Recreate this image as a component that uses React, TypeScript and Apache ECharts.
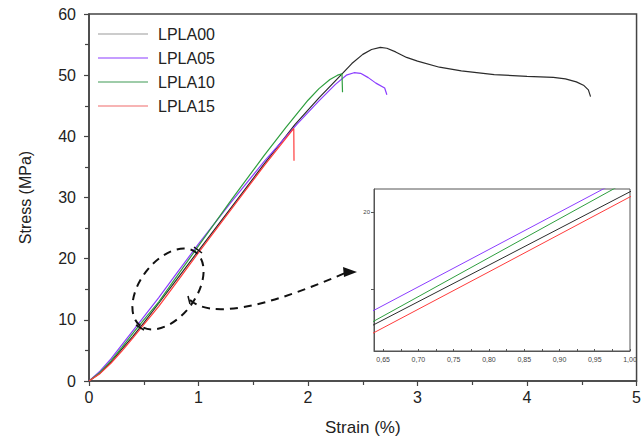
import React, { useEffect, useRef } from "react";
import * as echarts from "echarts";

// ---- data ----
const seriesNames = ["LPLA00", "LPLA05", "LPLA10", "LPLA15"];

const strain00 = [0, 0.1, 0.2, 0.3, 0.4, 0.5, 0.637, 0.8, 1.0, 1.3, 1.6, 1.88, 2.1, 2.3, 2.4, 2.5, 2.58, 2.66, 2.72, 2.8, 2.9, 3.0, 3.2, 3.4, 3.7, 4.0, 4.24, 4.35, 4.45, 4.52, 4.56, 4.58];
const stress00 = [0, 1.3, 3.1, 5.2, 7.3, 9.5, 12.71, 16.57, 21.32, 28.4, 35.5, 41.9, 46.3, 50.0, 51.9, 53.4, 54.2, 54.55, 54.4, 53.8, 52.9, 52.3, 51.3, 50.7, 50.1, 49.8, 49.65, 49.4, 48.9, 48.3, 47.6, 46.5];

const strain05 = [0, 0.1, 0.2, 0.3, 0.4, 0.5, 0.637, 0.8, 1.0, 1.3, 1.6, 1.9, 2.1, 2.25, 2.35, 2.42, 2.48, 2.55, 2.62, 2.7, 2.72];
const stress05 = [0, 1.6, 3.6, 5.9, 8.2, 10.5, 13.64, 17.58, 22.42, 29.3, 35.9, 42.0, 45.8, 48.5, 50.0, 50.4, 50.3, 49.6, 48.7, 47.9, 46.8];

const strain10 = [0, 0.1, 0.2, 0.3, 0.4, 0.5, 0.637, 0.8, 1.0, 1.3, 1.6, 1.8, 2.0, 2.1, 2.2, 2.27, 2.31, 2.315];
const stress10 = [0, 1.4, 3.3, 5.5, 7.8, 10.0, 12.94, 17.05, 22.09, 29.6, 36.9, 41.5, 45.9, 47.8, 49.3, 50.0, 50.2, 47.2];

const strain15 = [0, 0.1, 0.2, 0.3, 0.4, 0.5, 0.637, 0.8, 1.0, 1.3, 1.6, 1.87, 1.872];
const stress15 = [0, 1.2, 2.9, 4.9, 7.0, 9.2, 12.19, 16.13, 20.99, 28.1, 35.2, 41.3, 36.0];

const colors = ["#2b2b2b", "#8b3dff", "#2e9e3e", "#ff3b3b"];
const legendColors = ["#9a9a9a", "#8b3dff", "#3f9a55", "#f06a6a"];

const mainXTicks = [0, 1, 2, 3, 4, 5];
const mainYTicks = [0, 10, 20, 30, 40, 50, 60];
const insetXTicks = [0.65, 0.675, 0.7, 0.725, 0.75, 0.775, 0.8, 0.825, 0.85, 0.875, 0.9, 0.925, 0.95, 0.975, 1.0];
const insetXLabels = [0.65, 0.7, 0.75, 0.8, 0.85, 0.9, 0.95, 1.0];
const insetYTicks = [15, 20];
const insetYLabels = [20];

const allStrain = [strain00, strain05, strain10, strain15];
const allStress = [stress00, stress05, stress10, stress15];

const FONT = "'Liberation Sans', Arial, sans-serif";

export default function App() {
  const ref = useRef<HTMLDivElement>(null);

  useEffect(() => {
    if (!ref.current) return;
    const chart = echarts.init(ref.current, null, { renderer: "svg" });

    const pairs = allStrain.map((xs, i) => xs.map((x, j) => [x, allStress[i][j]]));

    const mainSeries = seriesNames.map((name, i) => ({
      name,
      type: "line",
      xAxisIndex: 0,
      yAxisIndex: 0,
      data: pairs[i],
      symbol: "none",
      smooth: false,
      lineStyle: { color: colors[i], width: 1.2 },
      itemStyle: { color: colors[i] },
      z: 3,
    }));

    const insetSeries = seriesNames.map((name, i) => ({
      name,
      type: "line",
      xAxisIndex: 1,
      yAxisIndex: 1,
      data: pairs[i],
      symbol: "none",
      clip: true,
      lineStyle: { color: colors[i], width: 1 },
      itemStyle: { color: colors[i] },
      z: 8,
    }));

    const axisColor = "#444";

    const option: any = {
      animation: false,
      backgroundColor: "#ffffff",
      textStyle: { fontFamily: FONT },
      legend: {
        left: 98,
        top: 26,
        padding: 0,
        orient: "vertical",
        itemWidth: 50,
        itemHeight: 16,
        itemGap: 8,
        textStyle: { fontSize: 16, color: "#222", fontFamily: FONT, padding: [0, 0, 0, 5] },
        data: seriesNames.map((n, i) => ({
          name: n,
          icon: "path://M0,0 L50,0 L50,1 L0,1 Z",
          itemStyle: { color: legendColors[i] },
        })),
      },
      grid: [
        { left: 89, right: 3, top: 14, bottom: 62, show: true, borderColor: axisColor, borderWidth: 1.5, backgroundColor: "transparent" },
        { left: 374, top: 189, width: 256, height: 162, show: true, borderColor: "#555", borderWidth: 1, backgroundColor: "#ffffff", z: 5 },
      ],
      xAxis: [
        {
          gridIndex: 0,
          type: "value",
          min: mainXTicks[0],
          max: mainXTicks[mainXTicks.length - 1],
          interval: 1,
          axisLine: { show: true, onZero: false, lineStyle: { color: axisColor, width: 1.5 } },
          axisTick: { show: true, length: 5, lineStyle: { color: axisColor, width: 1.2 } },
          minorTick: { show: true, splitNumber: 2, length: 4, lineStyle: { color: axisColor, width: 1.2 } },
          splitLine: { show: false },
          axisLabel: { fontSize: 16, color: "#222", margin: 8 },
          name: "Strain (%)",
          nameLocation: "middle",
          nameGap: 38,
          nameTextStyle: { fontSize: 17, color: "#222" },
        },
        {
          gridIndex: 1,
          type: "value",
          min: 0.637,
          max: 1.0,
          axisLine: { show: true, onZero: false, lineStyle: { color: "#555", width: 1 } },
          axisTick: { show: true, inside: true, length: 2, customValues: insetXTicks, lineStyle: { color: "#555", width: 1 } },
          splitLine: { show: false },
          axisLabel: {
            fontSize: 7,
            color: "#444",
            margin: 5,
            customValues: insetXLabels,
            formatter: (v: number) => v.toFixed(2).replace(".", ","),
          },
          z: 8,
        },
      ],
      yAxis: [
        {
          gridIndex: 0,
          type: "value",
          min: mainYTicks[0],
          max: mainYTicks[mainYTicks.length - 1],
          interval: 10,
          axisLine: { show: true, onZero: false, lineStyle: { color: axisColor, width: 1.5 } },
          axisTick: { show: true, length: 5, lineStyle: { color: axisColor, width: 1.2 } },
          minorTick: { show: true, splitNumber: 2, length: 4, lineStyle: { color: axisColor, width: 1.2 } },
          splitLine: { show: false },
          axisLabel: { fontSize: 16, color: "#222", margin: 13 },
          name: "Stress (MPa)",
          nameLocation: "middle",
          nameGap: 56,
          nameTextStyle: { fontSize: 16, color: "#222" },
        },
        {
          gridIndex: 1,
          type: "value",
          min: 11,
          max: 21.5,
          axisLine: { show: true, onZero: false, lineStyle: { color: "#555", width: 1 } },
          axisTick: { show: true, length: 3, customValues: insetYTicks, lineStyle: { color: "#555", width: 1 } },
          splitLine: { show: false },
          axisLabel: { fontSize: 6, color: "#444", margin: 4, customValues: insetYLabels },
          z: 8,
        },
      ],
      series: [...mainSeries, ...insetSeries],
      graphic: [
        {
          type: "ellipse",
          x: 168,
          y: 289,
          rotation: 0.925,
          shape: { cx: 0, cy: 0, rx: 46, ry: 28 },
          style: { fill: "transparent", stroke: "#111", lineWidth: 2, lineDash: [8, 6] },
          z: 20,
        },
        {
          type: "bezierCurve",
          shape: { x1: 190, y1: 300, cpx1: 210, cpy1: 318, cpx2: 260, cpy2: 310, x2: 345, y2: 273 },
          style: { fill: "transparent", stroke: "#111", lineWidth: 2, lineDash: [8, 6] },
          z: 20,
        },
        {
          type: "polygon",
          shape: { points: [[357, 272], [343, 267], [344, 277]] },
          style: { fill: "#111" },
          z: 20,
        },
        { type: "line", shape: { x1: 194, y1: 247, x2: 202, y2: 253 }, style: { stroke: "#111", lineWidth: 1.5 }, z: 20 },
        { type: "line", shape: { x1: 136, y1: 325, x2: 144, y2: 330 }, style: { stroke: "#111", lineWidth: 1.5 }, z: 20 },
        { type: "line", shape: { x1: 188, y1: 296, x2: 190, y2: 304 }, style: { stroke: "#111", lineWidth: 1.5 }, z: 20 },
      ],
    };

    chart.setOption(option);
    return () => chart.dispose();
  }, []);

  return (
    <div
      ref={ref}
      style={{ position: "fixed", left: 0, top: 0, width: 644, height: 443, background: "#fff" }}
    />
  );
}
